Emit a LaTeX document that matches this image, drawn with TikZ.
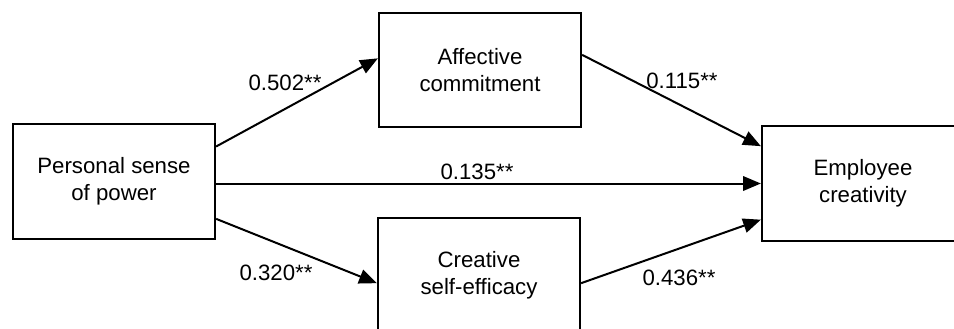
\documentclass[tikz,border=0pt]{standalone}
\usepackage{fontspec}
\setmainfont{Liberation Sans}
\usetikzlibrary{arrows.meta,calc}

\begin{document}
\begin{tikzpicture}[x=0.45pt,y=-0.45pt,
  box/.style={draw,line width=0.9pt,align=center,inner sep=0pt,
    minimum width=91pt,minimum height=51.6pt,font=\fontsize{10}{12}\selectfont},
  coef/.style={inner sep=0pt,font=\fontsize{10}{12}\selectfont},
  path/.style={-{Triangle[length=8pt,width=6.5pt]},line width=0.9pt}]

  \def\xmax{954}
  \def\ymax{328}

  \useasboundingbox (0,0) rectangle (\xmax,\ymax);
  \clip (0,0) rectangle (\xmax,\ymax);

  % boxes
  \node[box] (power) at (114,181.5) {Personal sense\\of power};
  \node[box] (commit) at (480,70) {Affective\\commitment};
  \node[box] (efficacy) at (479,275) {Creative\\self-efficacy};
  \node[box] (creat) at (863,183.5) {Employee\\creativity};

  % paths
  \draw[path] ($(power.north east)!0.2!(power.south east)$) -- ($(commit.north west)!0.4!(commit.south west)$);
  \draw[path] ($(commit.north east)!0.37!(commit.south east)$) -- ($(creat.north west)!0.18!(creat.south west)$);
  \draw[path] (creat.west -| power.east) -- (creat.west);
  \draw[path] ($(power.north east)!0.82!(power.south east)$) -- ($(efficacy.north west)!0.57!(efficacy.south west)$);
  \draw[path] ($(efficacy.north east)!0.57!(efficacy.south east)$) -- ($(creat.north west)!0.81!(creat.south west)$);

  % coefficients
  \node[coef] (c502) at (285,83) {0.502**};
  \node[coef] (c115) at (682,81) {0.115**};
  \node[coef] (c135) at (477,172) {0.135**};
  \node[coef] (c320) at (276,273) {0.320**};
  \node[coef] (c436) at (679,278) {0.436**};

\end{tikzpicture}
\end{document}
